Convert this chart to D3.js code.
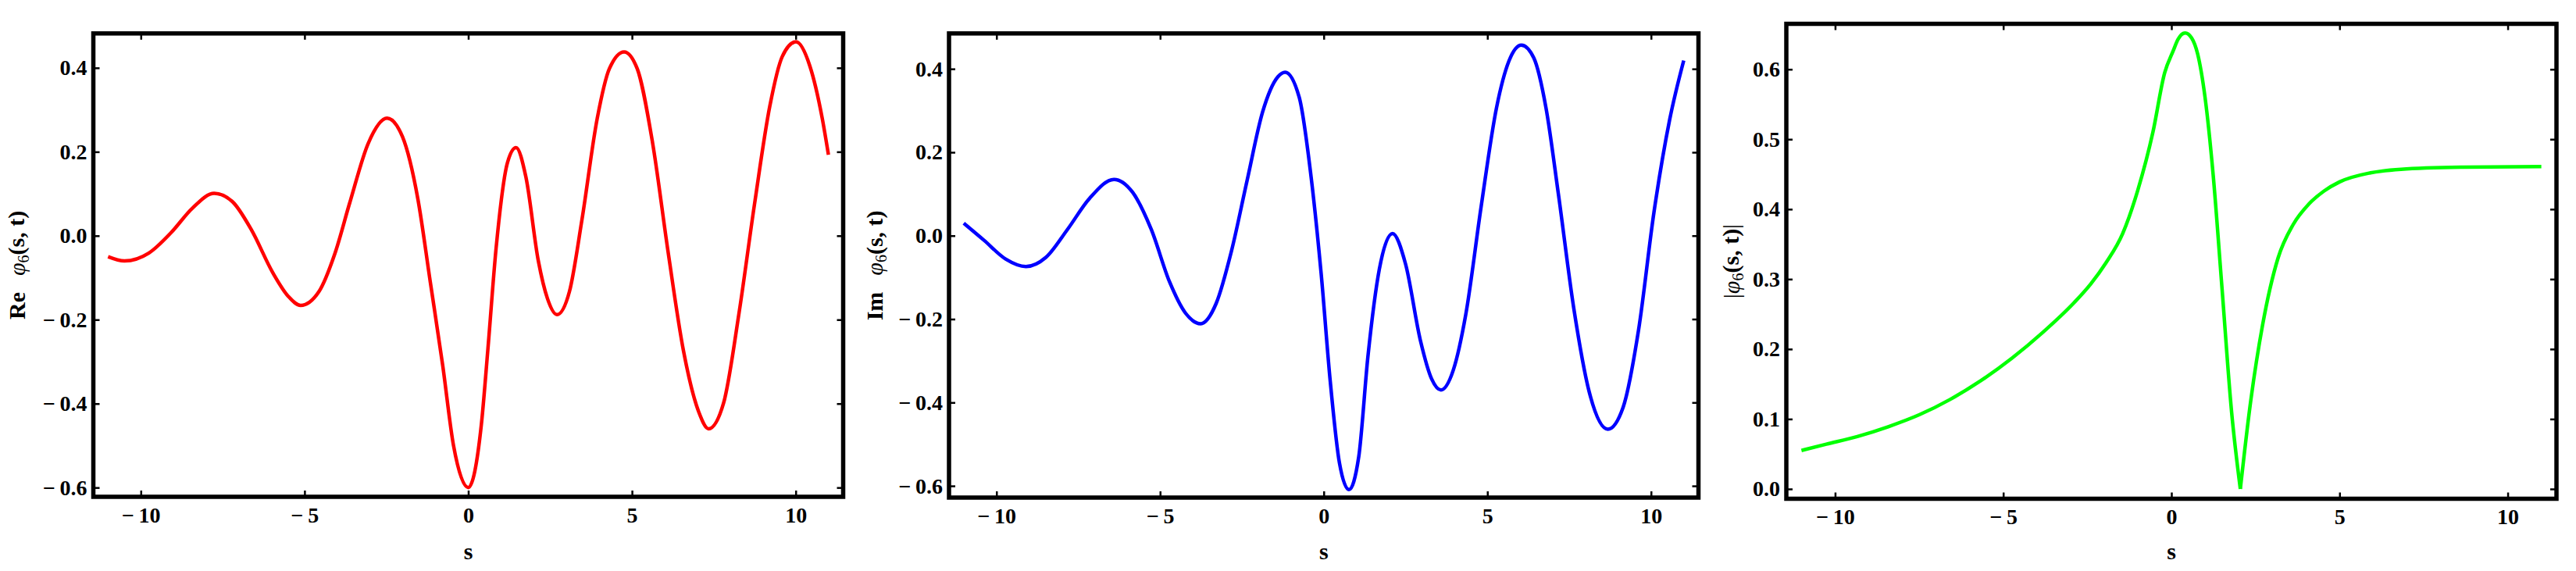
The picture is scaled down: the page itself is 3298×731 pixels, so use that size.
<!DOCTYPE html>
<html>
<head>
<meta charset="utf-8">
<script src="https://cdn.jsdelivr.net/npm/d3@7"></script>
<style>
  body { margin: 0; background: #fff; }
  text { font-family: "Liberation Serif", "Times New Roman", serif; }
</style>
</head>
<body>
<svg id="chart"></svg>
<script>
// tick labels
const sTicks = [-10, -5, 0, 5, 10];
const reImTicks = [-0.6, -0.4, -0.2, 0.0, 0.2, 0.4];
const absTicks = [0.0, 0.1, 0.2, 0.3, 0.4, 0.5, 0.6];

// Re phi_6(s,t)
const reS = [-11.0, -10.5, -9.75, -9.08, -8.42, -7.76, -7.2, -6.63, -5.97, -5.5, -5.12, -4.56, -4.08, -3.61,
  -3.05, -2.48, -2.01, -1.54, -1.16, -0.78, -0.45, 0, 0.4, 0.6, 0.85, 1.2, 1.46, 1.76, 2.14, 2.42, 2.71,
  3.09, 3.47, 3.94, 4.31, 4.76, 5.16, 5.63, 6.1, 6.57, 7.04, 7.34, 7.8, 8.27, 8.74, 9.21, 9.59, 10.01,
  10.43, 10.81, 11.0];
const reVal = [-0.050, -0.060, -0.041, 0.007, 0.066, 0.101, 0.081, 0.015, -0.088, -0.144, -0.166, -0.133, -0.044, 0.081,
  0.221, 0.280, 0.236, 0.088, -0.110, -0.309, -0.500, -0.600, -0.450, -0.270, -0.030, 0.175, 0.210, 0.140, -0.060, -0.150, -0.188,
  -0.133, 0.037, 0.280, 0.398, 0.438, 0.398, 0.221, -0.037, -0.273, -0.420, -0.460, -0.398, -0.184, 0.074, 0.309, 0.427, 0.462,
  0.405, 0.280, 0.193];

// Im phi_6(s,t)
const imS = [-11.0, -10.38, -9.72, -9.1, -8.49, -7.83, -7.16, -6.41, -5.84, -5.27, -4.71, -4.23, -3.76, -3.29,
  -2.82, -2.34, -1.87, -1.4, -1.18, -0.75, -0.37, -0.08, 0.2, 0.48, 0.77, 1.07, 1.35, 1.7, 2.1, 2.5, 2.95,
  3.3, 3.58, 3.96, 4.34, 4.81, 5.28, 5.66, 6.04, 6.42, 6.79, 7.17, 7.64, 8.11, 8.68, 9.15, 9.62, 10.09,
  10.57, 11.0];
const imVal = [0.030, -0.011, -0.056, -0.074, -0.052, 0.015, 0.089, 0.135, 0.104, 0.015, -0.111, -0.185, -0.211, -0.163,
  -0.037, 0.133, 0.296, 0.381, 0.392, 0.332, 0.130, -0.090, -0.350, -0.545, -0.609, -0.530, -0.290, -0.080, 0.005, -0.068, -0.250,
  -0.344, -0.370, -0.322, -0.189, 0.070, 0.307, 0.419, 0.457, 0.426, 0.307, 0.100, -0.174, -0.374, -0.464, -0.411, -0.226, 0.056,
  0.278, 0.420];

// |phi_6(s,t)|
const absS = [-11.0, -10.26, -9.34, -8.42, -7.5, -6.58, -5.66, -4.74, -3.82, -2.9, -2.4, -1.95, -1.45, -1.0,
  -0.55, -0.2, 0.05, 0.2, 0.41, 0.6, 0.78, 1.0, 1.24, 1.5, 1.79, 2.05, 2.34, 2.71, 3.17, 3.62, 4.08,
  4.54, 5.0, 5.92, 6.83, 8.67, 11.0];
const absVal = [0.055, 0.064, 0.075, 0.089, 0.106, 0.128, 0.155, 0.187, 0.224, 0.266, 0.293, 0.323, 0.365, 0.427,
  0.510, 0.595, 0.626, 0.643, 0.652, 0.645, 0.622, 0.560, 0.450, 0.290, 0.110, 0.0, 0.119, 0.234, 0.330, 0.378, 0.407,
  0.426, 0.439, 0.452, 0.457, 0.460, 0.461];

const W = 3298, H = 731;
const svg = d3.select('#chart').attr('width', W).attr('height', H);
svg.append('rect').attr('width', W).attr('height', H).attr('fill', '#fff');

const panels = [
  {left: 119.5, top: 42.8, right: 1079.5, bottom: 636, yDomain: [-0.622, 0.482], yTicks: reImTicks,
   s: reS, v: reVal, color: '#ff0000', prefix: 'Re', labelX: 21},
  {left: 1215, top: 42.8, right: 2174.5, bottom: 637, yDomain: [-0.628, 0.485], yTicks: reImTicks,
   s: imS, v: imVal, color: '#0000ff', prefix: 'Im', labelX: 1119.5},
  {left: 2287, top: 30.5, right: 3273, bottom: 638.5, yDomain: [-0.014, 0.665], yTicks: absTicks,
   s: absS, v: absVal, color: '#00ff00', prefix: null, labelX: 2216, split: true}
];

const fmtY = d => (d < 0 ? '\u2212\u2009' : '') + d3.format('.1f')(Math.abs(d));
const fmtX = d => (d < 0 ? '\u2212\u2009' : '') + Math.abs(d);

panels.forEach(p => {
  let x = d3.scaleLinear().domain([-11.45, 11.45]).range([p.left, p.right]);
  let y = d3.scaleLinear().domain(p.yDomain).range([p.bottom, p.top]);
  let g = svg.append('g');

  // curve
  let pts = p.s.map((s, i) => [s, p.v[i]]);
  let line = d3.line().x(d => x(d[0])).y(d => y(d[1])).curve(d3.curveMonotoneX);
  let pieces = [pts];
  if (p.split) {
    // sharp zero of |phi| drawn as a cusp
    let k = d3.minIndex(pts, d => d[1]);
    pieces = [pts.slice(0, k + 1), pts.slice(k)];
  }
  pieces.forEach(seg => {
    g.append('path')
      .datum(seg)
      .attr('fill', 'none')
      .attr('stroke', p.color)
      .attr('stroke-width', 4.5)
      .attr('stroke-linejoin', 'round')
      .attr('d', line);
  });

  // axes
  let yAxis = g.append('g')
    .attr('transform', 'translate(' + p.left + ',0)')
    .call(d3.axisLeft(y).tickValues(p.yTicks).tickSizeInner(-8).tickSizeOuter(0).tickPadding(8).tickFormat(fmtY));
  let yAxisR = g.append('g')
    .attr('transform', 'translate(' + p.right + ',0)')
    .call(d3.axisRight(y).tickValues(p.yTicks).tickSizeInner(-8).tickSizeOuter(0).tickFormat(''));
  let xAxis = g.append('g')
    .attr('transform', 'translate(0,' + p.bottom + ')')
    .call(d3.axisBottom(x).tickValues(sTicks).tickSizeInner(-8).tickSizeOuter(0).tickPadding(13).tickFormat(fmtX));
  let xAxisT = g.append('g')
    .attr('transform', 'translate(0,' + p.top + ')')
    .call(d3.axisTop(x).tickValues(sTicks).tickSizeInner(-8).tickSizeOuter(0).tickFormat(''));

  [yAxis, yAxisR, xAxis, xAxisT].forEach(a => {
    a.select('.domain').remove();
    a.selectAll('.tick line').attr('stroke', '#000').attr('stroke-width', 2.5);
    a.selectAll('.tick text')
      .attr('fill', '#000')
      .style('font-family', '"Liberation Serif", "Times New Roman", serif')
      .style('font-size', '28px')
      .style('font-weight', 'bold');
  });

  // frame
  g.append('rect')
    .attr('x', p.left).attr('y', p.top)
    .attr('width', p.right - p.left).attr('height', p.bottom - p.top)
    .attr('fill', 'none')
    .attr('stroke', '#000')
    .attr('stroke-width', 5.5);

  // x label
  g.append('text')
    .attr('x', x(0)).attr('y', 716)
    .attr('text-anchor', 'middle')
    .style('font-size', '30px').style('font-weight', 'bold')
    .text('s');

  // y label
  let cy = (p.top + p.bottom) / 2;
  let lab = g.append('text')
    .attr('transform', 'translate(' + p.labelX + ',' + cy + ') rotate(-90)')
    .attr('text-anchor', 'middle')
    .attr('dy', '0.35em')
    .style('font-size', '30px');
  if (p.prefix) {
    lab.append('tspan').style('font-weight', 'bold').text(p.prefix + '\u2002\u2009');
  } else {
    lab.append('tspan').text('|');
  }
  lab.append('tspan').style('font-style', 'italic').text('\u03c6');
  lab.append('tspan').attr('dy', '0.25em').style('font-size', '20px').text('6');
  lab.append('tspan').attr('dy', '-0.17em').style('font-weight', 'bold').text('(s, t)');
  if (!p.prefix) lab.append('tspan').text('|');
});
</script>
</body>
</html>
